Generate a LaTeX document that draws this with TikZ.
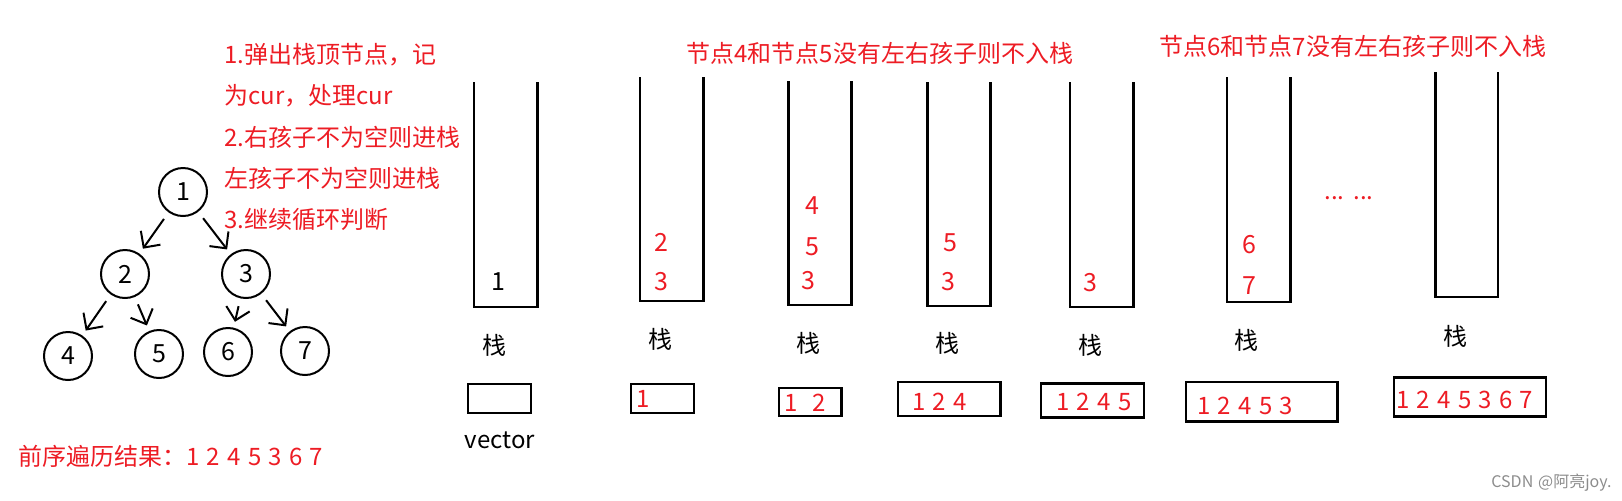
\documentclass[tikz,border=0pt]{standalone}
\usepackage{fontspec}
\setmainfont[WordSpace=1.35]{Noto Sans CJK SC}
\usepackage{tikz}
\usetikzlibrary{arrows.meta}
\definecolor{paintred}{RGB}{237,28,36}

\begin{document}
\begin{tikzpicture}[> = {Straight Barb[length=6pt,width=12pt]}, % open arrow head
	x=0.5pt, y=-0.5pt, % pixel grid, y going down
	font=\fontsize{12}{14}\selectfont,
	treenode/.style={circle,draw,line width=1pt,minimum size=24pt,inner sep=0pt,font=\fontsize{12.5}{14}\selectfont},
	treeedge/.style={->,line width=1pt,shorten >=3pt,shorten <=4pt},
	stackline/.style={line width=1.3pt},
	vecbox/.style={line width=1.3pt},
	num/.style={inner sep=0pt,font=\fontsize{12.5}{14}\selectfont},
	redtxt/.style={text=paintred,inner sep=0pt},
	blktxt/.style={inner sep=0pt}]
	\useasboundingbox (0,0) rectangle (1622,500);

	% the tree
	\node[treenode] (n1) at (183,192) {1};
	\node[treenode] (n2) at (125,274) {2};
	\node[treenode] (n3) at (246,274) {3};
	\node[treenode] (n4) at (68,356)  {4};
	\node[treenode] (n5) at (159,354) {5};
	\node[treenode] (n6) at (228,352) {6};
	\node[treenode] (n7) at (305,351) {7};

	\draw[treeedge] (n1)--(n2);
	\draw[treeedge] (n1)--(n3);
	\draw[treeedge] (n2)--(n4);
	\draw[treeedge] (n2)--(n5);
	\draw[treeedge] (n3)--(n6);
	\draw[treeedge] (n3)--(n7);

	% steps
	\node[redtxt,anchor=west] (step1) at (224,55)  {1.弹出栈顶节点，记};
	\node[redtxt,anchor=west] (step2) at (224,96)  {为cur，处理cur};
	\node[redtxt,anchor=west] (step3) at (224,137) {2.右孩子不为空则进栈};
	\node[redtxt,anchor=west] (step4) at (224,178) {左孩子不为空则进栈};
	\node[redtxt,anchor=west] (step5) at (224,219) {3.继续循环判断};
	\node[redtxt,anchor=west] (result) at (18,456) {前序遍历结果：1 2 4 5 3 6 7};

	% notes over the stacks
	\node[redtxt,anchor=west] (note1) at (686,53) {节点4和节点5没有左右孩子则不入栈};
	\node[redtxt,anchor=west] (note2) at (1159,46) {节点6和节点7没有左右孩子则不入栈};

	% stacks
	\draw[stackline] (474,82) |- (537.6,307) -- (537.6,82);
	\draw[stackline] (640,77) |- (703.5,301) -- (703.5,77);
	\draw[stackline] (788.6,81) |- (851.4,305) -- (851.4,81);
	\draw[stackline] (927.6,82) |- (990.7,306) -- (990.7,82);
	\draw[stackline] (1070,82) |- (1133.5,307) -- (1133.5,82);
	\draw[stackline] (1227,77) |- (1290.5,302) -- (1290.5,77);
	\draw[stackline] (1435.5,72) |- (1498,297) -- (1498,72);

	% stack contents
	\node[num] (s1a) at (498.5,282) {1};
	\node[num,text=paintred] (s2a) at (661,242) {2};
	\node[num,text=paintred] (s2b) at (661,282) {3};
	\node[num,text=paintred] (s3a) at (812,206) {4};
	\node[num,text=paintred] (s3b) at (812,247) {5};
	\node[num,text=paintred] (s3c) at (808.5,281) {3};
	\node[num,text=paintred] (s4a) at (950,243) {5};
	\node[num,text=paintred] (s4b) at (948,282) {3};
	\node[num,text=paintred] (s5a) at (1090.7,283) {3};
	\node[num,text=paintred] (s6a) at (1249,245) {6};
	\node[num,text=paintred] (s6b) at (1249,286) {7};
	\node[redtxt,anchor=base west] (dots) at (1324,199) {... ...};

	% stack labels
	\node[blktxt] (lab1) at (494,345) {栈};
	\node[blktxt] (lab2) at (660,339) {栈};
	\node[blktxt] (lab3) at (808,343) {栈};
	\node[blktxt] (lab4) at (947,343) {栈};
	\node[blktxt] (lab5) at (1090,345.5) {栈};
	\node[blktxt] (lab6) at (1246.5,340) {栈};
	\node[blktxt] (lab7) at (1455,336) {栈};

	% vector boxes
	\draw[vecbox] (468,384) rectangle (531,413);
	\draw[vecbox] (631,384) rectangle (694,413);
	\draw[vecbox] (779,388) rectangle (841.5,416);
	\draw[vecbox] (898,382) rectangle (1000.5,416);
	\draw[vecbox] (1041,383.5) rectangle (1144,417.5);
	\draw[vecbox] (1186,382) rectangle (1337.5,421.5);
	\draw[vecbox] (1394,377.5) rectangle (1546,416.5);

	\node[blktxt] (veclab) at (500,440) {vector};
	\node[redtxt,anchor=west] (v2) at (636,398.5) {1};
	\node[redtxt,anchor=west] (v3) at (784,403) {1\ \ 2};
	\node[redtxt,anchor=west] (v4) at (912,402) {1 2 4};
	\node[redtxt,anchor=west] (v5) at (1056,401.5) {1 2 4 5};
	\node[redtxt,anchor=west] (v6) at (1197,406) {1 2 4 5 3};
	\node[redtxt,anchor=west] (v7) at (1396,399.5) {1 2 4 5 3 6 7};

	\node[blktxt,anchor=west,text=black!45,font=\fontsize{8}{9}\selectfont] (mark) at (1491,483) {CSDN @阿亮joy.};
\end{tikzpicture}
\end{document}
